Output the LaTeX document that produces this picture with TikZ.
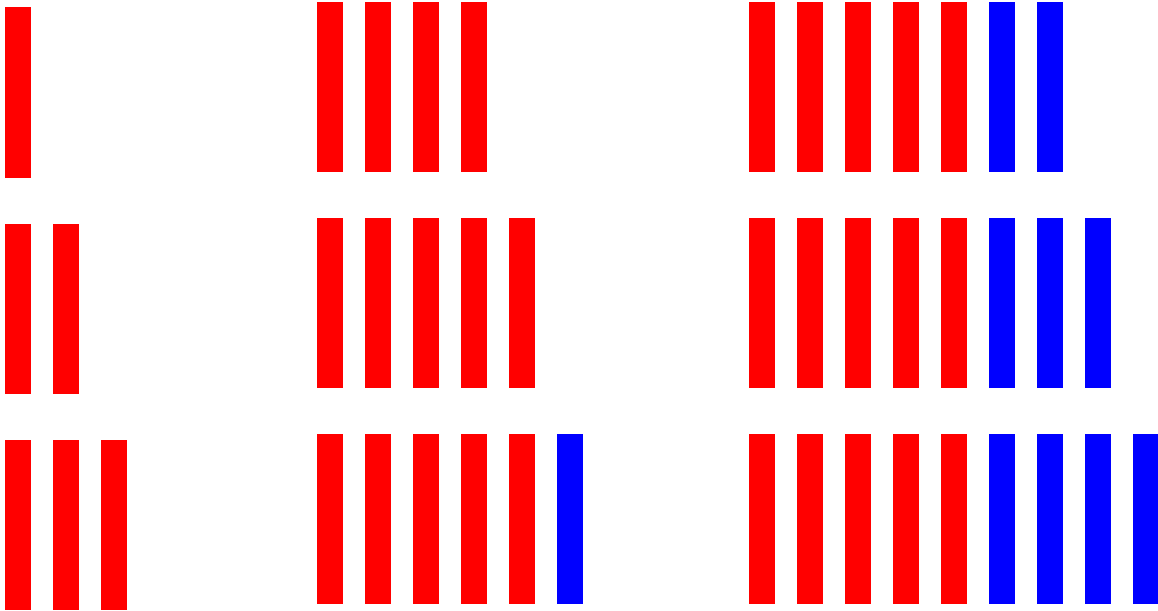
\documentclass[tikz,border=0pt]{standalone}
\begin{document}
\begin{tikzpicture}[x=1pt,y=-1pt,
  bar/.style={rectangle,draw=none,inner sep=0pt,outer sep=0pt,minimum width=26.3pt,minimum height=170pt,anchor=north west},
  redbar/.style={bar,fill=red},
  bluebar/.style={bar,fill=blue}]
\useasboundingbox (0,0) rectangle (1158,610);
% column 1
\foreach \r/\n in {0/1,1/2,2/3}{
  \foreach \k in {1,...,\n}{
    \node[redbar] (a\r\k) at ({4.7+48*(\k-1)},{7.5+216*\r}) {};
  }
}
% column 2
\foreach \r/\nr/\nb in {0/4/0,1/5/0,2/5/1}{
  \foreach \k in {1,...,\nr}{
    \node[redbar] (b\r\k) at ({317+48*(\k-1)},{2+216*\r}) {};
  }
  \ifnum\nb>0
  \foreach \k in {1,...,\nb}{
    \node[bluebar] (bb\r\k) at ({317+48*(\nr+\k-1)},{2+216*\r}) {};
  }
  \fi
}
% column 3
\foreach \r/\nb in {0/2,1/3,2/4}{
  \foreach \k in {1,...,5}{
    \node[redbar] (c\r\k) at ({749+48*(\k-1)},{2+216*\r}) {};
  }
  \foreach \k in {1,...,\nb}{
    \node[bluebar] (cb\r\k) at ({749+48*(5+\k-1)},{2+216*\r}) {};
  }
}
\end{tikzpicture}
\end{document}
